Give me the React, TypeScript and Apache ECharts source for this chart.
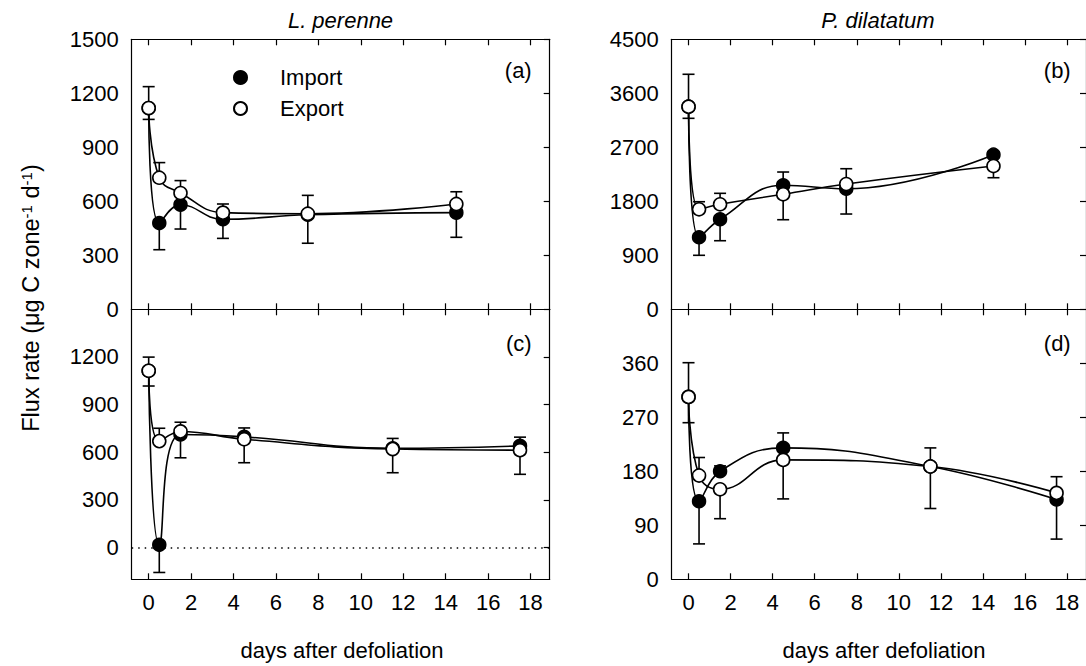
import React, { useEffect, useRef } from "react";
import * as echarts from "echarts";

// ---- data ----
const DAYS_A = [0, 0.5, 1.5, 3.5, 7.5, 14.5];
const IMPORT_A = [1118, 479, 581, 500, 525, 537];
const EXPORT_A = [1118, 731, 646, 537, 531, 585];
const ERR_HI_A = [1237, 815, 715, 585, 633, 653];
const ERR_LO_A = [1055, 331, 446, 394, 367, 400];

const DAYS_B = [0, 0.5, 1.5, 4.5, 7.5, 14.5];
const IMPORT_B = [3377, 1200, 1500, 2067, 2010, 2577];
const EXPORT_B = [3377, 1667, 1750, 1917, 2088, 2388];
const ERR_HI_B = [3917, 1793, 1933, 2288, 2343, null];
const ERR_LO_B = [3183, 900, 1143, 1493, 1588, 2193];

const DAYS_C = [0, 0.5, 1.5, 4.5, 11.5, 17.5];
const IMPORT_C = [1113, 17, 712, 697, 625, 640];
const EXPORT_C = [1113, 670, 731, 682, 620, 613];
const ERR_HI_C = [1199, 751, 789, 753, 687, 695];
const ERR_LO_C = [1017, -157, 565, 534, 471, 461];

const DAYS_D = [0, 0.5, 1.5, 4.5, 11.5, 17.5];
const IMPORT_D = [304, 130, 180, 219, 188, 133];
const EXPORT_D = [304, 173, 150, 199, 188, 144];
const ERR_HI_D = [361, 203, 189, 244, 219, 171];
const ERR_LO_D = [261, 59, 101, 134, 118, 67];

const X_TICKS = [0, 2, 4, 6, 8, 10, 12, 14, 16, 18];
const Y_TICKS_A = [0, 300, 600, 900, 1200, 1500];
const Y_TICKS_B = [0, 900, 1800, 2700, 3600, 4500];
const Y_TICKS_C = [0, 300, 600, 900, 1200];
const Y_TICKS_D = [0, 90, 180, 270, 360];

const Y_RANGES = [
  [0, 1500],
  [0, 4500],
  [-200, 1500],
  [0, 450],
];
const X_RANGE = [-0.8, 18.9];

const SPECIES = ["L. perenne", "P. dilatatum"];
const PANEL_LETTERS = ["(a)", "(b)", "(c)", "(d)"];
const X_TITLE = "days after defoliation";
const SERIES_NAMES = ["Import", "Export"];

const FONT = "Liberation Sans, Arial, Helvetica, sans-serif";
const FS = 22;

const PANELS = [
  { days: DAYS_A, imp: IMPORT_A, exp: EXPORT_A, hi: ERR_HI_A, lo: ERR_LO_A, ticks: Y_TICKS_A },
  { days: DAYS_B, imp: IMPORT_B, exp: EXPORT_B, hi: ERR_HI_B, lo: ERR_LO_B, ticks: Y_TICKS_B },
  { days: DAYS_C, imp: IMPORT_C, exp: EXPORT_C, hi: ERR_HI_C, lo: ERR_LO_C, ticks: Y_TICKS_C },
  { days: DAYS_D, imp: IMPORT_D, exp: EXPORT_D, hi: ERR_HI_D, lo: ERR_LO_D, ticks: Y_TICKS_D },
];

const GRIDS = [
  { left: 131.7, top: 39.3, width: 418, height: 270 },
  { left: 671.7, top: 39.3, width: 418, height: 270 },
  { left: 131.7, top: 309.3, width: 418, height: 270 },
  { left: 671.7, top: 309.3, width: 418, height: 270 },
];

const plain = (v: number) => String(v);

function buildOption() {
  const xAxis: any[] = [];
  const yAxis: any[] = [];
  const series: any[] = [];
  const axisLine = { show: true, onZero: false, lineStyle: { color: "#000", width: 1.2 } };
  const tick = { show: true, inside: true, length: 6, lineStyle: { color: "#000", width: 1.2 } };

  PANELS.forEach((p, i) => {
    const bottomRow = i >= 2;
    xAxis.push({
      type: "value",
      gridIndex: i,
      position: "bottom",
      min: X_RANGE[0],
      max: X_RANGE[1],
      axisLine,
      axisTick: { ...tick, customValues: X_TICKS },
      axisLabel: {
        show: bottomRow,
        customValues: X_TICKS,
        formatter: plain,
        margin: 12,
        fontSize: FS,
        color: "#000",
        fontFamily: FONT,
      },
      splitLine: { show: false },
    });
    yAxis.push({
      type: "value",
      gridIndex: i,
      position: "left",
      min: Y_RANGES[i][0],
      max: Y_RANGES[i][1],
      axisLine,
      axisTick: { show: false },
      axisLabel: {
        customValues: p.ticks,
        formatter: plain,
        margin: 13,
        fontSize: FS,
        color: "#000",
        fontFamily: FONT,
      },
      splitLine: { show: false },
    });
  });
  PANELS.forEach((p, i) => {
    xAxis.push({
      type: "value",
      gridIndex: i,
      position: "top",
      min: X_RANGE[0],
      max: X_RANGE[1],
      axisLine,
      axisTick: { ...tick, customValues: X_TICKS },
      axisLabel: { show: false },
      splitLine: { show: false },
    });
    yAxis.push({
      type: "value",
      gridIndex: i,
      position: "right",
      min: Y_RANGES[i][0],
      max: Y_RANGES[i][1],
      axisLine,
      axisTick: { ...tick, customValues: p.ticks },
      axisLabel: { show: false },
      splitLine: { show: false },
    });
  });

  PANELS.forEach((p, i) => {
    // error bars: upper from the higher marker, lower from the lower marker
    const errData: any[] = [];
    p.days.forEach((d, k) => {
      const top = Math.max(p.imp[k], p.exp[k]);
      const bot = Math.min(p.imp[k], p.exp[k]);
      if (p.hi[k] != null) errData.push([d, top, p.hi[k]]);
      if (p.lo[k] != null) errData.push([d, bot, p.lo[k]]);
    });
    series.push({
      type: "custom",
      xAxisIndex: i,
      yAxisIndex: i,
      z: 1,
      clip: false,
      silent: true,
      encode: { x: 0, y: [1, 2] },
      data: errData,
      renderItem: (params: any, api: any) => {
        const x = api.value(0);
        const p1 = api.coord([x, api.value(1)]);
        const p2 = api.coord([x, api.value(2)]);
        const st = { stroke: "#000", lineWidth: 1.6 };
        return {
          type: "group",
          children: [
            { type: "line", shape: { x1: p1[0], y1: p1[1], x2: p2[0], y2: p2[1] }, style: st },
            { type: "line", shape: { x1: p2[0] - 6, y1: p2[1], x2: p2[0] + 6, y2: p2[1] }, style: st },
          ],
        };
      },
    });
    series.push({
      name: SERIES_NAMES[0],
      type: "line",
      xAxisIndex: i,
      yAxisIndex: i,
      smooth: 0.45,
      z: 3,
      symbol: "circle",
      symbolSize: 13,
      itemStyle: { color: "#000", borderColor: "#000", borderWidth: 1.5 },
      lineStyle: { color: "#000", width: 1.6 },
      data: p.days.map((d, k) => [d, p.imp[k]]),
      markLine:
        i === 2
          ? {
              silent: true,
              symbol: "none",
              label: { show: false },
              lineStyle: { color: "#000", width: 1.5, type: [1.5, 5] },
              data: [{ yAxis: 0 }],
            }
          : undefined,
    });
    series.push({
      name: SERIES_NAMES[1],
      type: "line",
      xAxisIndex: i,
      yAxisIndex: i,
      smooth: 0.45,
      z: 4,
      symbol: "circle",
      symbolSize: 13,
      itemStyle: { color: "#fff", borderColor: "#000", borderWidth: 1.6 },
      lineStyle: { color: "#000", width: 1.6 },
      data: p.days.map((d, k) => [d, p.exp[k]]),
    });
  });

  const graphic: any[] = [
    {
      type: "text",
      x: 340.5,
      y: 20,
      style: { text: SPECIES[0], font: `italic ${FS}px ${FONT}`, fill: "#000", textAlign: "center", textVerticalAlign: "middle" },
    },
    {
      type: "text",
      x: 878,
      y: 20,
      style: { text: SPECIES[1], font: `italic ${FS}px ${FONT}`, fill: "#000", textAlign: "center", textVerticalAlign: "middle" },
    },
    {
      type: "text",
      x: 342,
      y: 650,
      style: { text: X_TITLE, font: `${FS}px ${FONT}`, fill: "#000", textAlign: "center", textVerticalAlign: "middle" },
    },
    {
      type: "text",
      x: 884,
      y: 650,
      style: { text: X_TITLE, font: `${FS}px ${FONT}`, fill: "#000", textAlign: "center", textVerticalAlign: "middle" },
    },
    {
      type: "text",
      x: 31,
      y: 298,
      rotation: Math.PI / 2,
      style: {
        text: "Flux rate (μg C zone{s|-1} d{s|-1})",
        font: `23.5px ${FONT}`,
        fontSize: 23.5,
        fontFamily: FONT,
        fill: "#000",
        align: "center",
        verticalAlign: "middle",
        rich: { s: { fontSize: 15, fontFamily: FONT, fill: "#000", verticalAlign: "top", padding: [0, 0, 10, 0] } },
      },
    },
  ];
  const letterPos = [
    [531.7, 70],
    [1070.7, 70],
    [531.7, 343],
    [1070.7, 343],
  ];
  PANEL_LETTERS.forEach((t, i) => {
    graphic.push({
      type: "text",
      x: letterPos[i][0],
      y: letterPos[i][1],
      style: { text: t, font: `${FS}px ${FONT}`, fill: "#000", textAlign: "right", textVerticalAlign: "middle" },
    });
  });

  return {
    animation: false,
    backgroundColor: "#fff",
    grid: GRIDS.map((g) => ({ ...g, containLabel: false })),
    xAxis,
    yAxis,
    legend: {
      data: SERIES_NAMES,
      orient: "vertical",
      left: 228,
      top: 61,
      icon: "circle",
      itemWidth: 13,
      itemHeight: 13,
      itemGap: 8,
      selectedMode: false,
      textStyle: { fontSize: FS, fontFamily: FONT, color: "#000", padding: [0, 0, 0, 28], lineHeight: 23 },
    },
    graphic,
    series,
  };
}

export default function App() {
  const ref = useRef<HTMLDivElement>(null);
  useEffect(() => {
    if (!ref.current) return;
    const chart = echarts.init(ref.current, undefined, { renderer: "svg" });
    chart.setOption(buildOption());
    return () => chart.dispose();
  }, []);
  return (
    <div
      ref={ref}
      style={{ position: "absolute", left: 0, top: 0, width: 1086, height: 666, background: "#fff" }}
    />
  );
}
